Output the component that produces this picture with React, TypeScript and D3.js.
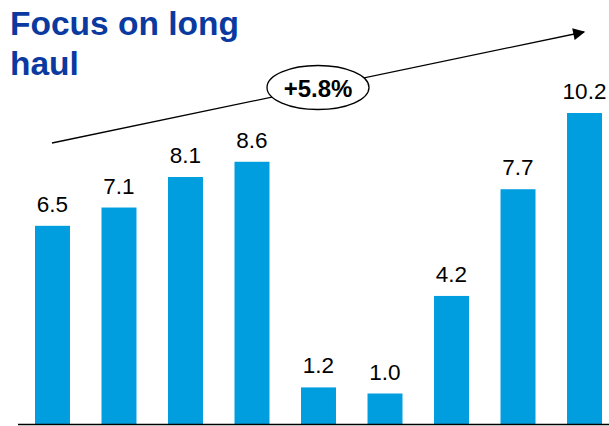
import React from "react";
import * as d3 from "d3";

const categories = ["c1", "c2", "c3", "c4", "c5", "c6", "c7", "c8", "c9"];
const values = [6.5, 7.1, 8.1, 8.6, 1.2, 1.0, 4.2, 7.7, 10.2];
const valueLabels = ["6.5", "7.1", "8.1", "8.6", "1.2", "1.0", "4.2", "7.7", "10.2"];
const titleLines = ["Focus on long", "haul"];
const cagrLabel = "+5.8%";

export default function App() {
  const W = 609, H = 426;
  const baseline = 424;
  const x = d3.scaleBand<string>().domain(categories).range([35, 602]).paddingInner(0.474).paddingOuter(0);
  const y = d3.scaleLinear().domain([0, 10.2]).range([baseline, 113]);
  return (
    <svg width={W} height={H} style={{ position: "absolute", left: 0, top: 0 }}
      fontFamily="Liberation Sans, Arial, sans-serif">
      <defs>
        <marker id="ah" viewBox="0 0 10 10" refX="9" refY="5" markerWidth="15" markerHeight="12" markerUnits="userSpaceOnUse" orient="auto">
          <path d="M0,0 L10,5 L0,10 Z" fill="#000" />
        </marker>
      </defs>
      {titleLines.map((t, i) => (
        <text key={i} x={10} y={35 + i * 40} fontSize={33.5} fontWeight="bold" fill="#0a3aa0">{t}</text>
      ))}
      {categories.map((c, i) => (
        <g key={c}>
          <rect x={x(c)} y={y(values[i])} width={x.bandwidth()} height={baseline - y(values[i])} fill="#009edf" />
          <text x={(x(c) as number) + x.bandwidth() / 2} y={y(values[i]) - 14} textAnchor="middle" fontSize={22.5} fill="#000">{valueLabels[i]}</text>
        </g>
      ))}
      <line x1={18} x2={609} y1={baseline + 0.5} y2={baseline + 0.5} stroke="#000" strokeWidth={1.5} />
      <line x1={52} y1={143} x2={584} y2={32} stroke="#000" strokeWidth={1.3} markerEnd="url(#ah)" />
      <ellipse cx={318} cy={87.5} rx={51} ry={22} fill="#fff" stroke="#000" strokeWidth={1.3} />
      <text x={318} y={97} textAnchor="middle" fontSize={24} fontWeight="bold" fill="#000">{cagrLabel}</text>
    </svg>
  );
}
